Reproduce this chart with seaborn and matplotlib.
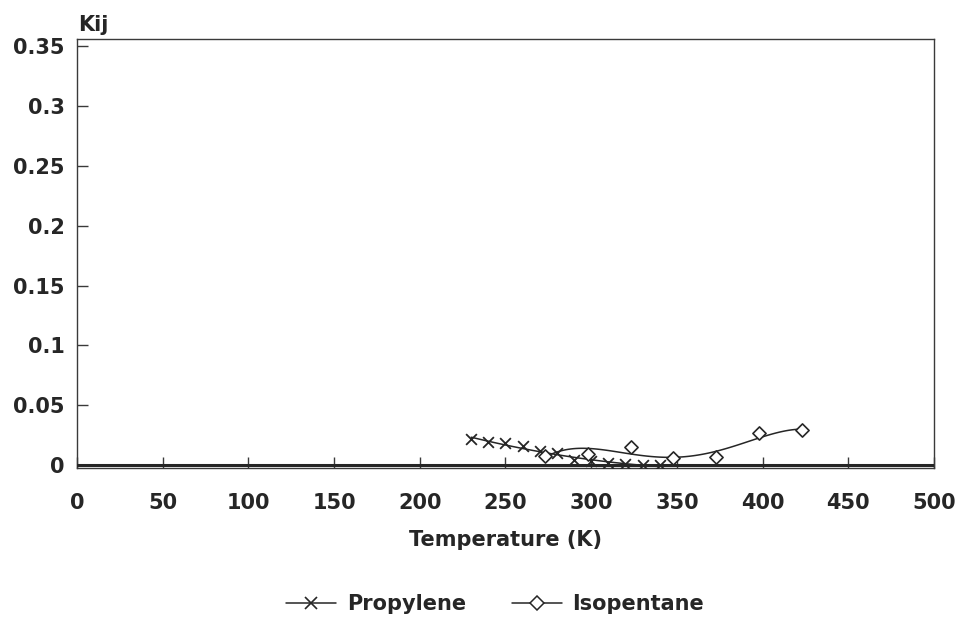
import numpy as np
import pandas as pd
import matplotlib
matplotlib.use("Agg")
import matplotlib.pyplot as plt
import seaborn as sns
from matplotlib.lines import Line2D

# Data
prop_T = [230, 240, 250, 260, 270, 280, 290, 300, 310, 320, 330, 340]
prop_k = [0.0215, 0.0195, 0.018, 0.016, 0.012, 0.0098, 0.0045, 0.003, 0.0015, 0.0006, 0.000, 0.000]
iso_T = [273, 298, 323, 348, 373, 398, 423]
iso_k = [0.0075, 0.0095, 0.015, 0.0056, 0.007, 0.0265, 0.029]
xticks = [0, 50, 100, 150, 200, 250, 300, 350, 400, 450, 500]
yticks = [0, 0.05, 0.1, 0.15, 0.2, 0.25, 0.3, 0.35]
ytick_labels = ["0", "0.05", "0.1", "0.15", "0.2", "0.25", "0.3", "0.35"]

sns.set_theme(style="ticks")
plt.rcParams['font.family'] = ['DejaVu Sans']

INK = "#262626"
fig = plt.figure(figsize=(9.64, 6.21), dpi=100)
ax = fig.add_axes([77 / 964, 1 - 468 / 621, (934 - 77) / 964, (468 - 39) / 621])

# smooth fitted curves from data
pc = np.polyfit(prop_T, prop_k, 2)
pT = np.linspace(min(prop_T), max(prop_T), 100)
ic = np.polyfit(iso_T, iso_k, 4)
iT = np.linspace(min(iso_T), max(iso_T), 100)

prop_fit = pd.DataFrame({"T": pT, "k": np.polyval(pc, pT)})
iso_fit = pd.DataFrame({"T": iT, "k": np.polyval(ic, iT)})
prop_df = pd.DataFrame({"T": prop_T, "k": prop_k})
iso_df = pd.DataFrame({"T": iso_T, "k": iso_k})

sns.lineplot(data=prop_fit, x="T", y="k", ax=ax, color=INK, lw=1.1)
sns.lineplot(data=iso_fit, x="T", y="k", ax=ax, color=INK, lw=1.1)
sns.scatterplot(data=prop_df, x="T", y="k", ax=ax, marker="x", s=60,
                color=INK, linewidth=1.3, zorder=4)
sns.scatterplot(data=iso_df, x="T", y="k", ax=ax, marker="D", s=45,
                facecolor="white", edgecolor=INK, linewidth=1.2, zorder=4)

ax.axhline(0, color=INK, lw=2.2, zorder=3)

ax.set_xlim(0, 500)
ax.set_ylim(-0.0025, 0.356)
ax.set_xticks(xticks)
ax.set_yticks(yticks)
ax.set_yticklabels(ytick_labels)
for sp in ax.spines.values():
    sp.set_color("#3a3a3a")
    sp.set_linewidth(1.0)
ax.tick_params(axis="both", direction="in", length=8, width=1.0, color="#3a3a3a",
               labelsize=15, labelcolor=INK)
for lab in ax.get_xticklabels() + ax.get_yticklabels():
    lab.set_fontweight("bold")
ax.tick_params(axis="x", pad=18)
ax.tick_params(axis="y", pad=9)
ax.set_xlabel("")
ax.set_ylabel("")
fig.text((77 + 934) / 2 / 964, 1 - 540 / 621, "Temperature (K)", fontsize=15,
         fontweight="bold", color=INK, ha="center", va="center")
fig.text(78 / 964, 1 - 25 / 621, "Kij", fontsize=15, fontweight="bold", color=INK,
         ha="left", va="center")

handles = [
    Line2D([], [], color=INK, lw=1.1, marker="x", markersize=8, markeredgewidth=1.2),
    Line2D([], [], color=INK, lw=1.1, marker="D", markersize=7,
           markerfacecolor="white", markeredgewidth=1.1),
]
fig.legend(handles, ["Propylene", "Isopentane"], loc="center",
           bbox_to_anchor=(495 / 964, 1 - 604 / 621),
           ncol=2, frameon=False, prop={"size": 15, "weight": "bold"},
           handlelength=2.4, columnspacing=2.2, handletextpad=0.5)

fig.savefig("out.png", dpi=100)
